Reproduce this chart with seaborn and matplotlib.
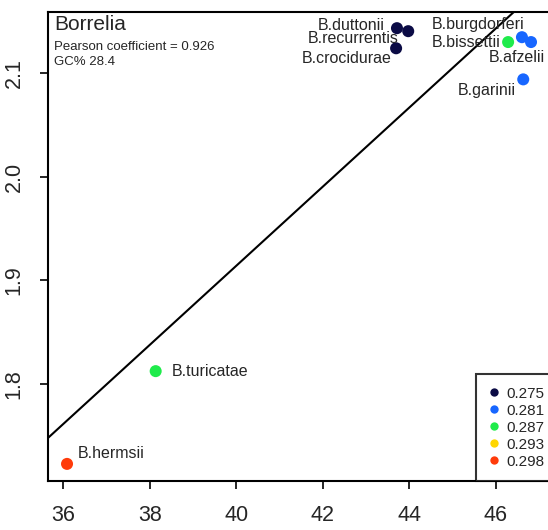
import matplotlib
matplotlib.use("Agg")
import matplotlib.pyplot as plt
import seaborn as sns
import pandas as pd
from matplotlib.lines import Line2D

# species values
species = ["B.hermsii", "B.turicatae", "B.duttonii", "B.recurrentis", "B.crocidurae",
           "B.burgdorferi", "B.bissettii", "B.afzelii", "B.garinii"]
gc_x = [36.09, 38.14, 43.72, 43.98, 43.70, 46.61, 46.29, 46.82, 46.64]
ratio_y = [1.723, 1.8125, 2.1434, 2.1405, 2.124, 2.1347, 2.130, 2.130, 2.094]
group = ["0.298", "0.287", "0.275", "0.275", "0.275", "0.281", "0.287", "0.281", "0.281"]

legend_levels = ["0.275", "0.281", "0.287", "0.293", "0.298"]
level_colors = ["#0B0B45", "#1766FF", "#1FEB4B", "#FFD600", "#FF3B0A"]

# fitted line (intercept, slope)
fit_intercept = 0.388
fit_slope = 0.03815

x_ticks = [36, 38, 40, 42, 44, 46]
y_ticks = [1.8, 1.9, 2.0, 2.1]

# label offsets in pixels (dx, dy, ha)
label_pos = {
    "B.hermsii": (11, 10, "left"),
    "B.turicatae": (16, 0, "left"),
    "B.duttonii": (-12, 3, "right"),
    "B.recurrentis": (-10, -7, "right"),
    "B.crocidurae": (-4, -10, "right"),
    "B.burgdorferi": (2, 13, "right"),
    "B.bissettii": (-8, 0, "right"),
    "B.afzelii": (14, -15, "right"),
    "B.garinii": (-7, -11, "right"),
}

df = pd.DataFrame({"species": species, "x": gc_x, "y": ratio_y, "group": group})

sns.set_style("white")
plt.rcParams["font.family"] = ["Liberation Sans", "DejaVu Sans"]

fig = plt.figure(figsize=(5.48, 5.30), dpi=100)
ax = fig.add_axes([48 / 548, 49 / 530, 512 / 548, 469 / 530])

palette = dict(zip(legend_levels, level_colors))
sns.scatterplot(data=df, x="x", y="y", hue="group", palette=palette, s=75,
                edgecolor="none", legend=False, ax=ax, zorder=3)

ax.set_xlim(35.65, 47.49)
ax.set_ylim(1.7065, 2.159)

# regression line across the plot
xs = [35.0, 48.0]
ax.plot(xs, [fit_intercept + fit_slope * v for v in xs], color="black", lw=1.5, zorder=2)

for _, r in df.iterrows():
    dx, dy, ha = label_pos[r["species"]]
    ax.annotate(r["species"], (r["x"], r["y"]), xytext=(dx, dy), textcoords="offset pixels",
                ha=ha, va="center", fontsize=11.5, zorder=4)

ax.set_xticks(x_ticks)
ax.set_xticklabels([str(t) for t in x_ticks])
ax.set_yticks(y_ticks)
ax.set_yticklabels([f"{t:.1f}" for t in y_ticks], rotation=90, va="center")
ax.tick_params(axis="both", direction="out", length=6, width=1.2, labelsize=15.5,
               bottom=True, left=True, color="black", pad=11)
ax.tick_params(axis="x", pad=11)
ax.set_xlabel("")
ax.set_ylabel("")
for s in ax.spines.values():
    s.set_color("black")
    s.set_linewidth(1.5)

ax.text(6 / 512, 1 - 3 / 469, "Borrelia", transform=ax.transAxes, fontsize=15, ha="left", va="top")
ax.text(6 / 512, 1 - 35 / 469, "Pearson coefficient = 0.926", transform=ax.transAxes,
        fontsize=9.5, ha="left", va="center")
ax.text(6 / 512, 1 - 50 / 469, "GC% 28.4", transform=ax.transAxes, fontsize=9.5,
        ha="left", va="center")

handles = [Line2D([0], [0], marker="o", color="none", markerfacecolor=c, markeredgecolor="none",
                  markersize=6) for c in level_colors]
leg = ax.legend(handles, legend_levels, loc="lower left",
                bbox_to_anchor=(476 / 548, 49 / 530), bbox_transform=fig.transFigure,
                frameon=True, fancybox=False, fontsize=11, handlelength=0.8,
                handletextpad=0.4, labelspacing=0.2, borderpad=0.8, borderaxespad=0)
leg.get_frame().set_edgecolor("black")
leg.get_frame().set_linewidth(1.5)

fig.savefig("out.png", dpi=100)
